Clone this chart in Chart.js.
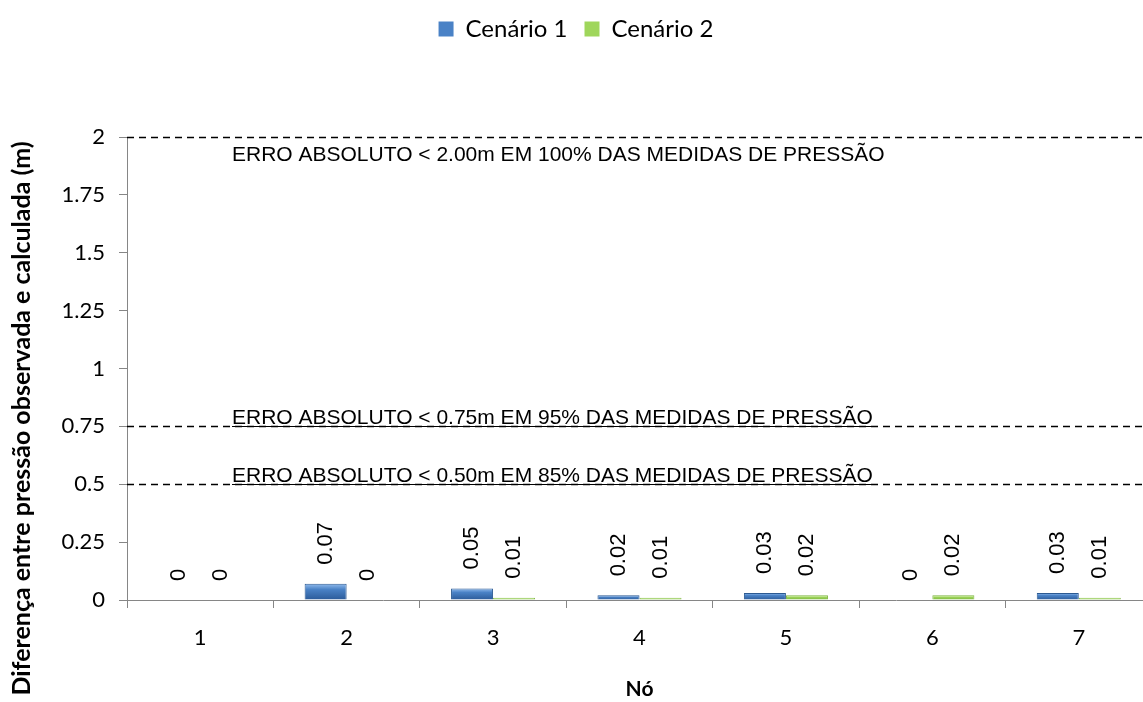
<!DOCTYPE html>
<html lang="pt">
<head>
  <meta charset="UTF-8">
  <title>Diferença entre pressão observada e calculada</title>
  <script src="https://cdn.jsdelivr.net/npm/chart.js"></script>
  <style>
    html, body {
      margin: 0;
      padding: 0;
      background: #fff;
      overflow: hidden; /* chart is a bit wider than the window, like the source */
    }
  </style>
</head>
<body>
  <canvas id="chart" width="1160" height="702"></canvas>

  <script>
    const nodes = ['1', '2', '3', '4', '5', '6', '7'];
    const cenario1 = [0, 0.07, 0.05, 0.02, 0.03, 0, 0.03];
    const cenario2 = [0, 0, 0.01, 0.01, 0.02, 0.02, 0.01];
    const yTicks = [0, 0.25, 0.5, 0.75, 1, 1.25, 1.5, 1.75, 2];
    const limits = [2, 0.75, 0.5];
    const limitNotes = [
      'ERRO ABSOLUTO < 2.00m EM 100% DAS MEDIDAS DE PRESSÃO',
      'ERRO ABSOLUTO < 0.75m EM 95% DAS MEDIDAS DE PRESSÃO',
      'ERRO ABSOLUTO < 0.50m EM 85% DAS MEDIDAS DE PRESSÃO'
    ];

    const axisGrey = '#868686';

    // vertical gradient per bar, gives the bevelled Excel look
    function barFill(stops) {
      return function (c) {
        const chart = c.chart;
        if (!chart.chartArea || c.type !== 'data' || !c.raw) return stops[1];
        const y = chart.scales.y;
        const top = y.getPixelForValue(c.raw);
        const base = y.getPixelForValue(0);
        const g = chart.ctx.createLinearGradient(0, top, 0, base);
        g.addColorStop(0, stops[0]);
        g.addColorStop(0.35, stops[1]);
        g.addColorStop(1, stops[2]);
        return g;
      };
    }

    // dashed limit lines with their notes
    const limitLines = {
      id: 'limitLines',
      beforeDatasetsDraw(chart) {
        const { ctx, chartArea: a, scales: { y } } = chart;
        ctx.save();
        ctx.font = '21px "Liberation Sans", Arial, sans-serif';
        ctx.fillStyle = '#000';
        ctx.strokeStyle = '#000';
        ctx.textBaseline = 'alphabetic';
        limits.forEach((v, i) => {
          const py = Math.round(y.getPixelForValue(v)) + 0.5;
          ctx.lineWidth = 1.5;
          ctx.setLineDash([7, 5]);
          ctx.beginPath();
          ctx.moveTo(a.left, py);
          ctx.lineTo(a.right, py);
          ctx.stroke();

          const tx = a.left + 105;
          const w = ctx.measureText(limitNotes[i]).width;
          if (v >= y.max) {
            ctx.fillText(limitNotes[i], tx, py + 23);
          } else {
            ctx.fillText(limitNotes[i], tx, py - 3);
            // note is underlined right on the line
            ctx.setLineDash([]);
            ctx.lineWidth = 1;
            ctx.beginPath();
            ctx.moveTo(tx, py);
            ctx.lineTo(tx + w, py);
            ctx.stroke();
          }
        });
        ctx.restore();
      }
    };

    // vertical value labels above each bar
    const barLabels = {
      id: 'barLabels',
      afterDatasetsDraw(chart) {
        const ctx = chart.ctx;
        ctx.save();
        ctx.font = '22px "Liberation Sans", Arial, sans-serif';
        ctx.fillStyle = '#000';
        ctx.textAlign = 'left';
        ctx.textBaseline = 'middle';
        chart.data.datasets.forEach((ds, di) => {
          chart.getDatasetMeta(di).data.forEach((bar, i) => {
            ctx.save();
            ctx.translate(bar.x, bar.y - 19);
            ctx.rotate(-Math.PI / 2);
            ctx.fillText(String(ds.data[i]), 0, 0);
            ctx.restore();
          });
        });
        ctx.restore();
      }
    };

    // y title sits lower than the axis centre in the source
    const yTitle = {
      id: 'yTitle',
      afterDraw(chart) {
        const { ctx, chartArea: a } = chart;
        ctx.save();
        ctx.translate(22, (a.top + a.bottom) / 2 + 50);
        ctx.rotate(-Math.PI / 2);
        ctx.font = 'bold 25px Lato, sans-serif';
        ctx.textAlign = 'center';
        ctx.textBaseline = 'middle';
        ctx.fillStyle = '#000';
        ctx.fillText('Diferença entre pressão observada e calculada (m)', 0, 0);
        ctx.restore();
      }
    };

    new Chart(document.getElementById('chart'), {
      type: 'bar',
      data: {
        labels: nodes,
        datasets: [
          {
            label: 'Cenário 1',
            data: cenario1,
            backgroundColor: barFill(['#93bdee', '#4a82c6', '#2b5a98']),
            borderColor: '#2c5a92',
            borderWidth: c => (c.type === 'data' && c.raw === 0 ? 0 : 1)
          },
          {
            label: 'Cenário 2',
            data: cenario2,
            backgroundColor: barFill(['#d4f1a8', '#9fd65b', '#79b43c']),
            borderColor: '#7fb543',
            borderWidth: c => (c.type === 'data' && c.raw === 0 ? 0 : 1)
          }
        ]
      },
      options: {
        responsive: false,
        animation: false,
        layout: { padding: { left: 0, right: 8, top: 0, bottom: 0 } },
        datasets: {
          bar: { categoryPercentage: 0.574, barPercentage: 1 }
        },
        plugins: {
          legend: {
            position: 'top',
            weight: 3000,
            labels: {
              font: { family: 'Lato', size: 24 },
              color: '#000',
              boxWidth: 15,
              boxHeight: 15,
              padding: 17
            }
          },
          // empty title used as spacer under the legend
          title: {
            display: true,
            text: '',
            weight: 500,
            font: { size: 10 },
            padding: { top: 74, bottom: 0 }
          },
          tooltip: { enabled: false }
        },
        scales: {
          x: {
            grid: {
              display: true,
              drawOnChartArea: false,
              offset: true,
              tickLength: 8,
              color: axisGrey
            },
            border: { color: axisGrey },
            ticks: {
              font: { family: 'Lato', size: 22 },
              color: '#000',
              padding: 17
            },
            title: {
              display: true,
              text: 'Nó',
              font: { family: 'Lato', size: 21, weight: 'bold' },
              color: '#000',
              padding: { top: 0, bottom: 0 }
            },
            afterFit: s => { s.height = 102; }
          },
          y: {
            min: 0,
            max: 2,
            afterBuildTicks: s => { s.ticks = yTicks.map(v => ({ value: v })); },
            ticks: {
              callback: v => String(v),
              font: { family: 'Lato', size: 22 },
              color: '#000',
              padding: 14
            },
            grid: {
              drawOnChartArea: false,
              tickLength: 8,
              color: axisGrey
            },
            border: { color: axisGrey },
            afterFit: s => { s.width = 127; }
          }
        }
      },
      plugins: [limitLines, barLabels, yTitle]
    });
  </script>
</body>
</html>
